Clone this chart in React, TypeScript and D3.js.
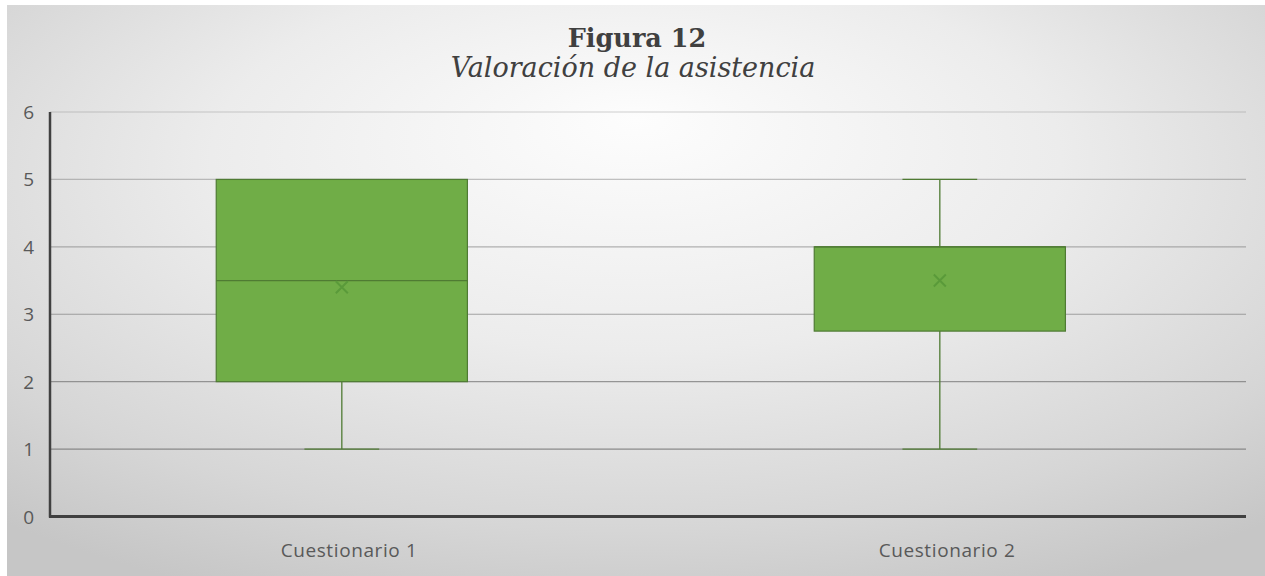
import React from "react";
import * as d3 from "d3";

const categories = ["Cuestionario 1", "Cuestionario 2"];
const mins = [1, 1];
const q1s = [2, 2.75];
const medians = [3.5, 4];
const q3s = [5, 4];
const maxs = [5, 5];
const means = [3.4, 3.5];
const yTicks = [0, 1, 2, 3, 4, 5, 6];

const W = 1265;
const H = 576;
const M = { left: 50, right: 1246, top: 112, bottom: 516.5 };

export default function App() {
  const x = d3.scaleBand<string>().domain(categories).range([M.left, M.right]).padding(0);
  const y = d3.scaleLinear().domain([0, 6]).range([M.bottom, M.top]);
  const bw = x.bandwidth();
  const boxW = bw * 0.42;
  const capW = bw * 0.125;
  const shift = -bw * 0.012;
  const gridOpacity = d3.scaleLinear().domain([0, 6]).range([0.95, 0.35]);
  const sans = "'Open Sans', 'Noto Sans', sans-serif";
  const serif = "'DejaVu Serif', serif";
  const boxStroke = "#4f7b33";
  const fill = "#70ad47";

  return (
    <svg width={W} height={H} style={{ position: "absolute", left: 0, top: 0 }}>
      <defs>
        <radialGradient id="bg" cx="50%" cy="35%" r="75%" fx="50%" fy="20%">
          <stop offset="0" stopColor="#fdfdfd" />
          <stop offset="0.45" stopColor="#ececec" />
          <stop offset="0.8" stopColor="#d6d6d6" />
          <stop offset="1" stopColor="#c6c6c6" />
        </radialGradient>
      </defs>
      <rect x={0} y={0} width={W} height={H} fill="#ffffff" />
      <rect x={7} y={5} width={W - 7} height={H - 5} fill="url(#bg)" />

      {/* title */}
      <text x={637} y={47} textAnchor="middle" fontFamily={serif} fontWeight="bold" fontSize={25.5} fill="#404040">
        Figura 12
      </text>
      <text x={633} y={77} textAnchor="middle" fontFamily={serif} fontStyle="italic" fontSize={27} fill="#404040">
        Valoración de la asistencia
      </text>

      {/* gridlines */}
      {yTicks.filter((t) => t > 0).map((t) => (
        <line key={t} x1={M.left} x2={M.right} y1={y(t)} y2={y(t)} stroke="#7a7a7a" strokeOpacity={gridOpacity(t)} strokeWidth={1.2} />
      ))}

      {/* y tick labels */}
      {yTicks.map((t) => (
        <text key={t} x={34} y={y(t) + 2} textAnchor="end" dominantBaseline="middle" fontFamily={sans} fontSize={19} fill="#595959">
          {t}
        </text>
      ))}

      {/* boxes */}
      {categories.map((c, i) => {
        const cx = (x(c) as number) + bw / 2 + shift;
        return (
          <g key={c}>
            <line x1={cx} x2={cx} y1={y(mins[i])} y2={y(q1s[i])} stroke={boxStroke} strokeWidth={1.3} />
            <line x1={cx} x2={cx} y1={y(maxs[i])} y2={y(q3s[i])} stroke={boxStroke} strokeWidth={1.3} />
            <line x1={cx - capW / 2} x2={cx + capW / 2} y1={y(mins[i])} y2={y(mins[i])} stroke={boxStroke} strokeWidth={1.3} />
            {maxs[i] > q3s[i] && (
              <line x1={cx - capW / 2} x2={cx + capW / 2} y1={y(maxs[i])} y2={y(maxs[i])} stroke={boxStroke} strokeWidth={1.3} />
            )}
            <rect
              x={cx - boxW / 2}
              y={y(q3s[i])}
              width={boxW}
              height={y(q1s[i]) - y(q3s[i])}
              fill={fill}
              stroke={boxStroke}
              strokeWidth={1.2}
            />
            <line x1={cx - boxW / 2} x2={cx + boxW / 2} y1={y(medians[i])} y2={y(medians[i])} stroke={boxStroke} strokeWidth={1.3} />
            <path
              d={`M${cx - 6},${y(means[i]) - 6}L${cx + 6},${y(means[i]) + 6}M${cx + 6},${y(means[i]) - 6}L${cx - 6},${y(means[i]) + 6}`}
              stroke="#5a9a3a"
              strokeWidth={2}
              fill="none"
            />
          </g>
        );
      })}

      {/* axes */}
      <line x1={M.left} x2={M.left} y1={M.top} y2={M.bottom + 1} stroke="#404040" strokeWidth={2.5} />
      <line x1={M.left - 1} x2={M.right} y1={M.bottom} y2={M.bottom} stroke="#404040" strokeWidth={3} />

      {/* category labels */}
      {categories.map((c) => (
        <text key={c} x={(x(c) as number) + bw / 2} y={557} textAnchor="middle" fontFamily={sans} fontSize={19} letterSpacing={0.6} fill="#595959">
          {c}
        </text>
      ))}
    </svg>
  );
}
